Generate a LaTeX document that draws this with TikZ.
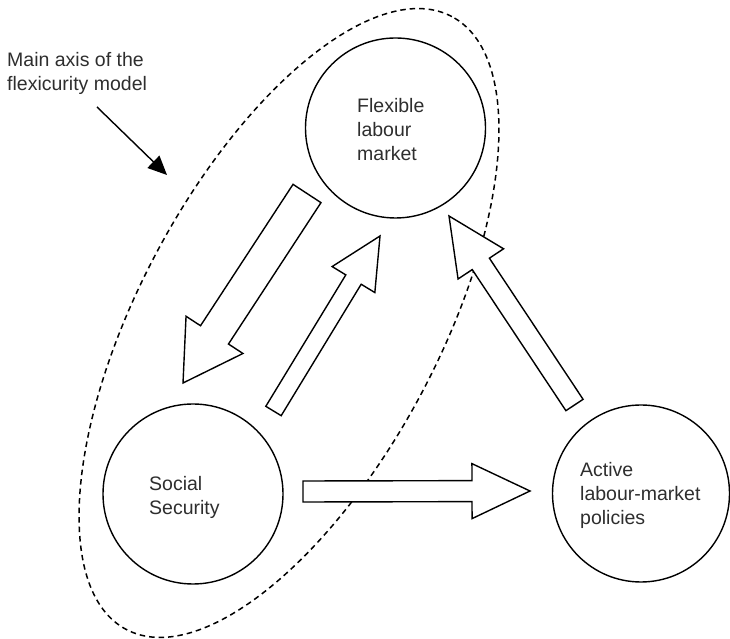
\documentclass[tikz,border=0pt]{standalone}
\usepackage{fontspec}
\setmainfont{Liberation Sans}
\usetikzlibrary{calc,arrows.meta}

% Hollow block arrow from a tail coordinate to a tip coordinate.
% #1 tail, #2 tip, #3 half shaft width, #4 half head width, #5 head length (all in pt)
\newdimen\batx \newdimen\baty \newdimen\bahx \newdimen\bahy
\newcommand\blockarrow[5]{%
  \pgfextractx{\batx}{\pgfpointanchor{#1}{center}}%
  \pgfextracty{\baty}{\pgfpointanchor{#1}{center}}%
  \pgfextractx{\bahx}{\pgfpointanchor{#2}{center}}%
  \pgfextracty{\bahy}{\pgfpointanchor{#2}{center}}%
  \pgfmathsetmacro\baang{atan2(\bahy-\baty,\bahx-\batx)}%
  \pgfmathsetmacro\balen{veclen(\bahx-\batx,\bahy-\baty)}%
  \pgfmathsetmacro\baneck{\balen-#5}%
  \begin{scope}[shift={(\the\batx,\the\baty)},rotate=\baang]
    \draw[blockarrow] (0,-#3) -- (\baneck,-#3) -- (\baneck,-#4) -- (\balen,0)
      -- (\baneck,#4) -- (\baneck,#3) -- (0,#3) -- cycle;
  \end{scope}}

\tikzset{
  hub/.style={circle, draw, line width=1.4pt, minimum size=180pt, inner sep=0pt},
  label/.style={anchor=north west, inner sep=0pt, align=left, text=black!82,
    font=\fontsize{19.5}{24}\selectfont},
  blockarrow/.style={line width=1.4pt, line join=miter, fill=white},
  axisline/.style={line width=1.5pt, dash pattern=on 5.5pt off 4pt},
  callout/.style={line width=1.4pt, -{Triangle[length=19pt,width=17pt]}}
}

\begin{document}
\begin{tikzpicture}[x=1pt,y=1pt]
\useasboundingbox (0,0) rectangle (730,639);

% main axis outline: a tilted ellipse
\coordinate (axiscentre) at (289,316);
\draw[axisline, rotate around={62:(axiscentre)}]
  (axiscentre) ellipse [x radius=347, y radius=150];

% the three circles
\node[hub] (flex) at (395.5,511) {};
\node[hub] (social) at (193,145) {};
\node[hub, minimum size=177pt] (active) at (641,145.5) {};

\node[label] (flextext) at (357,540.5) {Flexible\\labour\\market};
\node[label] (socialtext) at (149,162.5) {Social\\Security};
\node[label] (activetext) at (580,177) {Active\\labour-market\\policies};
\node[label] (axistext) at (7,586.5) {Main axis of the\\flexicurity model};

% block arrow end points
\coordinate (a1s) at (307,445.5);   \coordinate (a1e) at (183,256);
\coordinate (a2s) at (273.5,228);   \coordinate (a2e) at (380,403);
\coordinate (a3s) at (303,147.5);   \coordinate (a3e) at (530,148);
\coordinate (a4s) at (574.5,234);   \coordinate (a4e) at (449,423);

\blockarrow{a1s}{a1e}{16.7}{34}{57.5}
\blockarrow{a2s}{a2e}{9}{25}{51}
\blockarrow{a3s}{a3e}{10.5}{27.5}{58}
\blockarrow{a4s}{a4e}{10.3}{27.3}{57.5}

% pointer from the caption
\coordinate (calltail) at (97,532);
\coordinate (calltip) at (167,464);
\draw[callout] (calltail) -- (calltip);
\end{tikzpicture}
\end{document}
